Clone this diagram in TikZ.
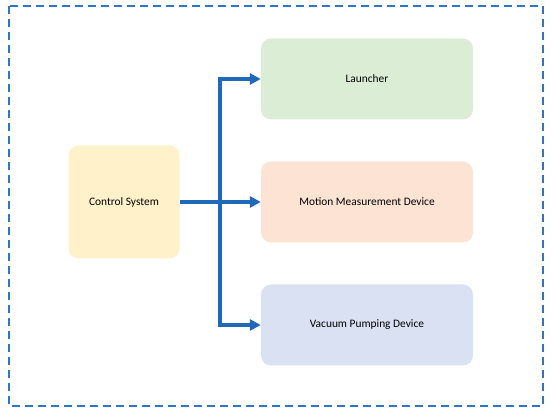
\documentclass[tikz,border=0pt]{standalone}
\usepackage{fontspec}
\setmainfont{Carlito}
\usetikzlibrary{arrows.meta}

\definecolor{frameblue}{HTML}{2E75C6}
\definecolor{flowblue}{HTML}{1F68BA}
\definecolor{ctrlfill}{HTML}{FFF1CA}
\definecolor{launchfill}{HTML}{DCEDD5}
\definecolor{motionfill}{HTML}{FCE3D4}
\definecolor{vacuumfill}{HTML}{D9E1F3}

\tikzset{
  unit/.style={rounded corners=10pt, inner sep=0pt, font=\fontsize{11.4}{13}\selectfont},
  flow/.style={draw=flowblue, line width=3.4pt, -{Triangle[length=11pt,width=11pt]}}
}

\begin{document}
\begin{tikzpicture}[x=1pt,y=-1pt]
		
		\useasboundingbox (0,0) rectangle (550,414);
		
		% outer frame
		\draw[frameblue, line width=2pt, dash pattern=on 8pt off 5pt] (9,6) rectangle (543,406);
		
		% blocks
		\node[unit, fill=ctrlfill, minimum width=111pt, minimum height=113pt] (ctrl) at (124,202) {Control System};
		\node[unit, fill=launchfill, minimum width=212pt, minimum height=81pt] (launcher) at (367,79) {Launcher};
		\node[unit, fill=motionfill, minimum width=212pt, minimum height=81pt] (motion) at (367,202) {Motion Measurement Device};
		\node[unit, fill=vacuumfill, minimum width=212pt, minimum height=81pt] (vacuum) at (367,325) {Vacuum Pumping Device};
		
		% connectors
		\coordinate (split) at (220,202);
		\draw[flow] (ctrl.east) -- (motion.west);
		\draw[flow] (split) |- (launcher.west);
		\draw[flow] (split) |- (vacuum.west);
		
	\end{tikzpicture}
\end{document}
